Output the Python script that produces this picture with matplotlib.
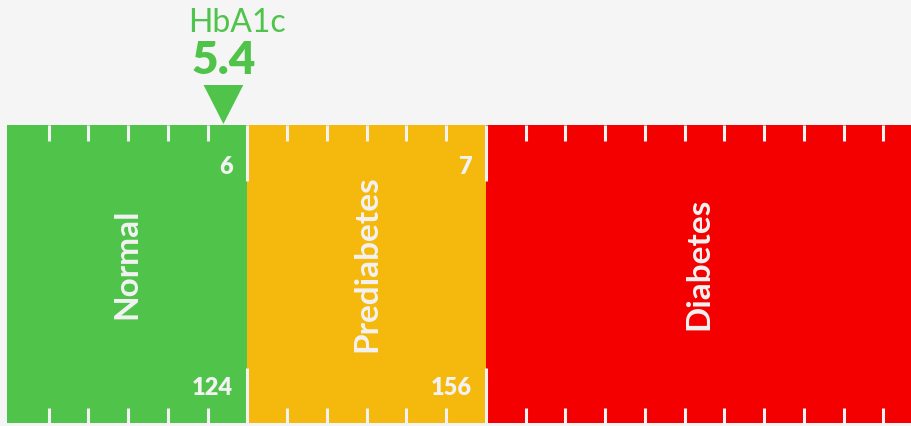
import matplotlib
matplotlib.use('Agg')

from matplotlib import pyplot as plt
from matplotlib.patches import Rectangle, Polygon
from matplotlib.transforms import offset_copy
import numpy as np

# Dados do medidor
faixas = ['Normal', 'Prediabetes', 'Diabetes']
limites_hba1c = [0, 6, 7]          # inicio de cada faixa (HbA1c %)
rotulos_limite = ['6', '7']         # HbA1c no fim de Normal / Prediabetes
rotulos_eag = ['124', '156']        # glicose media estimada (mg/dL)
valor_hba1c = 5.4
nome_medida = 'HbA1c'

# Layout: cada faixa ocupa um numero de divisoes na escala
divisoes = [6, 6, 12]
cores = ['#50c44a', '#f5b80d', '#f40000']
fundo = '#f5f5f5'
branco = '#f2f2f2'

inicio = np.concatenate([[0], np.cumsum(divisoes)[:-1]])
fim = np.cumsum(divisoes)

fig = plt.figure(figsize=(9.12, 4.26), dpi=100, facecolor=fundo)
ax = fig.add_axes([0, 0, 1, 1])
ax.set_facecolor(fundo)
ax.set_xlim(-0.22, 22.72)
ax.set_ylim(426, 0)
ax.axis('off')

topo, base = 125, 423

# Faixas coloridas
for i, nome in enumerate(faixas):
    x0 = inicio[i] - (0.04 if i == 0 else 0)
    ax.add_patch(Rectangle((x0, topo), fim[i] - x0 + 0.5, base - topo,
                           facecolor=cores[i], edgecolor='none', zorder=1))

# Marcas da escala
lw = 2.2
for i in range(len(faixas)):
    for k in range(inicio[i] + 1, fim[i]):
        ax.plot([k, k], [topo, topo + 16], color=branco, lw=lw, solid_capstyle='butt', zorder=2)
        ax.plot([k, k], [base - 15, base], color=branco, lw=lw, solid_capstyle='butt', zorder=2)
for k in inicio[1:]:
    ax.plot([k, k], [topo, topo + 56], color=branco, lw=lw, solid_capstyle='butt', zorder=3)
    ax.plot([k, k], [base - 55, base], color=branco, lw=lw, solid_capstyle='butt', zorder=3)

# Nomes das faixas
for i, nome in enumerate(faixas):
    xc = (inicio[i] + min(fim[i], ax.get_xlim()[1])) / 2
    if i == 0:
        xc = (inicio[i] - 0.04 + fim[i]) / 2
    ax.text(xc, 264, nome, rotation=90, ha='center', va='center', color=branco,
            fontsize=24, fontweight='bold', family='Lato', zorder=4)

# Valores nos limites
trans_esq = offset_copy(ax.transData, fig=fig, x=-14, y=0, units='dots')
for i, (lim, eag) in enumerate(zip(rotulos_limite, rotulos_eag)):
    xb = inicio[i + 1]
    ax.text(xb, 174, lim, ha='right', va='baseline', color=branco, fontsize=17,
            fontweight='heavy', family='Lato', transform=trans_esq, zorder=4)
    ax.text(xb, 395, eag, ha='right', va='baseline', color=branco, fontsize=17,
            fontweight='heavy', family='Lato', transform=trans_esq, zorder=4)

# Marcador do valor
xm = np.interp(valor_hba1c, limites_hba1c, inicio)
ax.add_patch(Polygon([[xm - 0.5, 85], [xm + 0.5, 85], [xm, 124]], closed=True,
                     facecolor=cores[0], edgecolor='none', zorder=5))
ax.text(xm, 74, f'{valor_hba1c:g}', ha='center', va='baseline', color=cores[0],
        fontsize=33, fontweight='heavy', family='Lato')
trans_dir = offset_copy(ax.transData, fig=fig, x=14, y=0, units='dots')
ax.text(xm, 32, nome_medida, ha='center', va='baseline', color=cores[0],
        fontsize=23, family='Lato', transform=trans_dir)

fig.savefig('out.png', dpi=100, facecolor=fundo)
